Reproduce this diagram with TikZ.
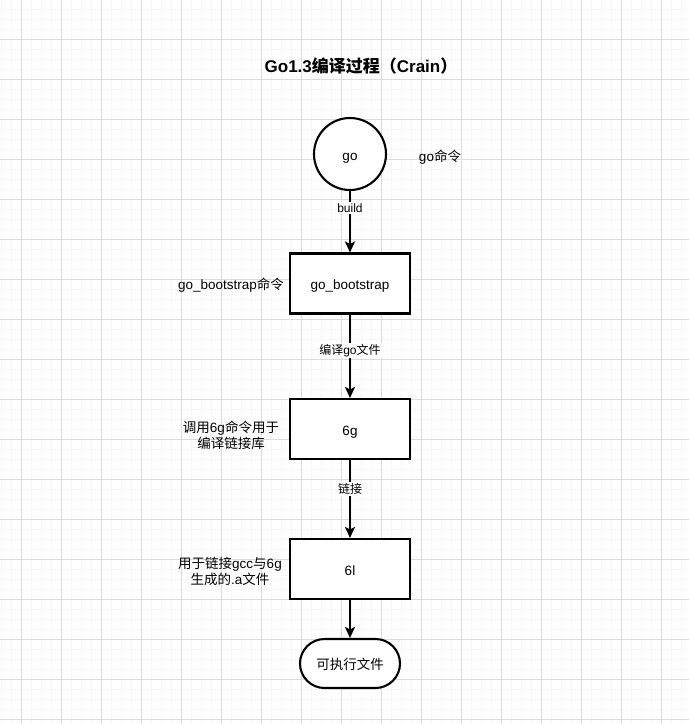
\documentclass[tikz,border=0pt]{standalone}
\usepackage{fontspec}
\setmainfont{Liberation Sans}
\newfontfamily\cjk{Noto Sans CJK SC}
\newcommand\zh[1]{{\cjk #1}}
\usetikzlibrary{arrows.meta}
\tikzset{
  gridminor/.style={draw=black!3,line width=1pt},
  gridmajor/.style={draw=black!14,line width=1pt},
  shapeline/.style={draw=black,line width=2.1pt,fill=white},
  nodetext/.style={font=\fontsize{13.5}{16}\selectfont,text height=15.5pt,text depth=2.8pt},
  stepbox/.style={shapeline,nodetext,rectangle,minimum width=120pt,minimum height=60pt},
  edge/.style={draw=black,line width=2pt,-{Stealth[length=11pt,width=10pt,inset=2.5pt]}},
  lbl/.style={fill=white,inner sep=1.5pt,font=\fontsize{12}{14}\selectfont},
  side/.style={font=\fontsize{13.5}{16}\selectfont,align=center,inner sep=0pt}
}
\begin{document}
\begin{tikzpicture}[x=1pt,y=-1pt]
\fill[white] (0,0) rectangle (689,724);
\useasboundingbox (0,0) rectangle (689,724);
\foreach \x in {1,11,...,681} \draw[gridminor] (\x,0) -- (\x,724);
\foreach \y in {9,19,...,719} \draw[gridminor] (0,\y) -- (689,\y);
\foreach \x in {21,61,...,661} \draw[gridmajor] (\x,0) -- (\x,724);
\foreach \y in {39,79,...,719} \draw[gridmajor] (0,\y) -- (689,\y);

\node[font=\fontsize{17}{20}\selectfont\bfseries] (title) at (361,66) {Go1.3\zh{编译过程（}Crain\zh{）}};

\node[shapeline,nodetext,circle,minimum size=72pt,inner sep=0pt] (go) at (350,154) {go};
\node[stepbox] (bs) at (350,283.5) {go\_bootstrap};
\node[stepbox] (g6) at (350,429) {6g};
\node[stepbox] (l6) at (350,569) {6l};
\node[shapeline,nodetext,rectangle,rounded corners=24.5pt,minimum width=100pt,minimum height=49pt] (exe) at (350,663.5) {\zh{可执行文件}};

\node[side] (tgo) at (440,157) {go\zh{命令}};
\node[side] (tbs) at (231,285.5) {go\_bootstrap\zh{命令}};
\node[side] (tg6) at (231,435) {\zh{调用}6g\zh{命令用于}\\\zh{编译链接库}};
\node[side] (tl6) at (230,571) {\zh{用于链接}gcc\zh{与}6g\\\zh{生成的}.a\zh{文件}};

\draw[edge] (go) -- node[lbl,pos=0.28] {build} (bs);
\draw[edge] (bs) -- node[lbl,pos=0.43] {\zh{编译}go\zh{文件}} (g6);
\draw[edge] (g6) -- node[lbl,pos=0.37] {\zh{链接}} (l6);
\draw[edge] (l6) -- (exe);
\end{tikzpicture}
\end{document}
